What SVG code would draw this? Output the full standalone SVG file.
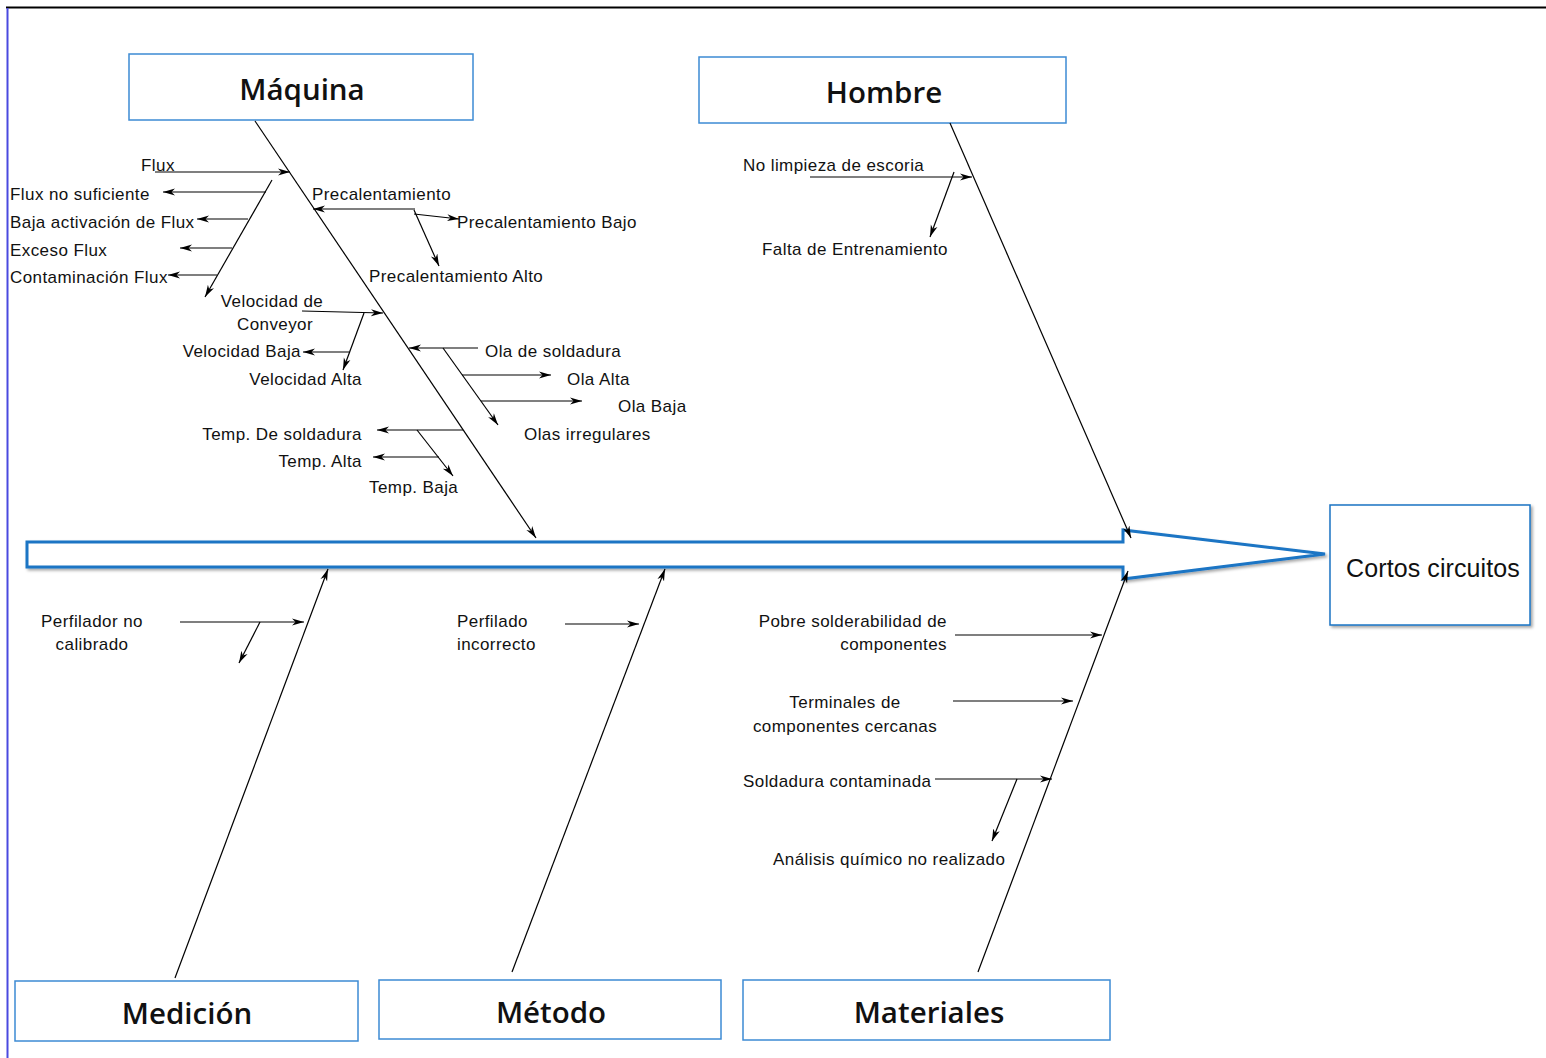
<svg xmlns="http://www.w3.org/2000/svg" width="1546" height="1058" viewBox="0 0 1546 1058">
<defs>
<marker id="ah" markerUnits="userSpaceOnUse" markerWidth="14" markerHeight="10" viewBox="0 0 14 10" refX="12" refY="5" orient="auto">
<path d="M0,1.5 L12,5 L0,8.5 L3.5,5 z" fill="#000"/>
</marker>
<filter id="sh" x="-5%" y="-20%" width="110%" height="140%">
<feDropShadow dx="2" dy="2" stdDeviation="1.5" flood-color="#000" flood-opacity="0.35"/>
</filter>
</defs>
<style>
.box{fill:#fff;stroke:#3d8bd4;stroke-width:1.5}
.title{font-family:"Open Sans","Noto Sans",sans-serif;font-weight:600;font-size:29.5px;fill:#111;text-anchor:middle}
.lbl{font-family:"Liberation Sans",Arial,sans-serif;font-size:17px;letter-spacing:0.42px;fill:#111}
.e{text-anchor:end}
.m{text-anchor:middle}
.ln{stroke:#000;stroke-width:1.2;fill:none}
.ar{stroke:#000;stroke-width:1.2;fill:none;marker-end:url(#ah)}
</style>
<rect width="1546" height="1058" fill="#fff"/>
<line x1="6" y1="7.5" x2="1546" y2="7.5" stroke="#000" stroke-width="2"/>
<line x1="7.5" y1="8" x2="7.5" y2="1058" stroke="#4a4ae0" stroke-width="2"/>

<g id="spine">
<path d="M27,542 L1123,542 L1123,530 L1325,554 L1123,579 L1123,567 L27,567 Z" fill="#fff" stroke="#1a74c4" stroke-width="3" stroke-linejoin="miter" filter="url(#sh)"/>
</g>

<g id="node-maquina">
<rect class="box" x="129" y="54" width="344" height="66"/>
<text class="title" x="302" y="100">Máquina</text>
</g>
<g id="node-hombre">
<rect class="box" x="699" y="57" width="367" height="66"/>
<text class="title" x="884" y="103">Hombre</text>
</g>
<g id="node-medicion">
<rect class="box" x="15" y="981" width="343" height="60"/>
<text class="title" x="187" y="1024">Medición</text>
</g>
<g id="node-metodo">
<rect class="box" x="379" y="980" width="342" height="59"/>
<text class="title" x="551" y="1023">Método</text>
</g>
<g id="node-materiales">
<rect class="box" x="743" y="980" width="367" height="60"/>
<text class="title" x="929" y="1023">Materiales</text>
</g>
<g id="node-efecto">
<rect x="1330" y="505" width="200" height="120" fill="#fff" stroke="#1a74c4" stroke-width="1.5" filter="url(#sh)"/>
<text class="lbl m" x="1433" y="577" style="font-size:25px;letter-spacing:0.1px">Cortos circuitos</text>
</g>

<g id="connectors">
<line class="ar" x1="255" y1="121" x2="536" y2="538"/>
<line class="ar" x1="950" y1="123" x2="1131" y2="538"/>
<line class="ar" x1="175" y1="978" x2="328" y2="569"/>
<line class="ar" x1="512" y1="972" x2="665" y2="569"/>
<line class="ar" x1="978" y1="972" x2="1128" y2="571"/>

<line class="ar" x1="155" y1="172" x2="290" y2="172"/>
<line class="ar" x1="272" y1="180" x2="205" y2="297"/>
<line class="ar" x1="266" y1="192" x2="163" y2="192"/>
<line class="ar" x1="248" y1="219" x2="197" y2="219"/>
<line class="ar" x1="232" y1="248" x2="180" y2="248"/>
<line class="ar" x1="217" y1="275" x2="168" y2="275"/>

<line class="ar" x1="415" y1="209" x2="313" y2="209"/>
<line class="ar" x1="414" y1="214" x2="459" y2="219"/>
<line class="ar" x1="414" y1="210" x2="439" y2="266"/>

<line class="ar" x1="302" y1="311" x2="383" y2="313"/>
<line class="ar" x1="364" y1="313" x2="343" y2="370"/>
<line class="ar" x1="349" y1="352" x2="303" y2="352"/>

<line class="ar" x1="478" y1="348" x2="409" y2="348"/>
<line class="ar" x1="443" y1="348" x2="498" y2="425"/>
<line class="ar" x1="462" y1="375" x2="551" y2="375"/>
<line class="ar" x1="481" y1="401" x2="582" y2="401"/>

<line class="ar" x1="463" y1="430" x2="377" y2="430"/>
<line class="ar" x1="417" y1="430" x2="453" y2="476"/>
<line class="ar" x1="439" y1="457" x2="373" y2="457"/>

<line class="ar" x1="810" y1="177" x2="972" y2="177"/>
<line class="ar" x1="954" y1="172" x2="930" y2="237"/>

<line class="ar" x1="180" y1="622" x2="304" y2="622"/>
<line class="ar" x1="260" y1="622" x2="239" y2="663"/>

<line class="ar" x1="565" y1="624" x2="639" y2="624"/>

<line class="ar" x1="955" y1="635" x2="1102" y2="635"/>
<line class="ar" x1="953" y1="701" x2="1073" y2="701"/>
<line class="ar" x1="935" y1="779" x2="1052" y2="779"/>
<line class="ar" x1="1017" y1="779" x2="992" y2="841"/>
</g>

<g id="labels-maquina">
<text class="lbl" x="141" y="171">Flux</text>
<text class="lbl" x="10" y="200">Flux no suficiente</text>
<text class="lbl" x="10" y="228">Baja activación de Flux</text>
<text class="lbl" x="10" y="256">Exceso Flux</text>
<text class="lbl" x="10" y="283">Contaminación Flux</text>
<text class="lbl" x="312" y="200">Precalentamiento</text>
<text class="lbl" x="457" y="228">Precalentamiento Bajo</text>
<text class="lbl" x="369" y="282">Precalentamiento Alto</text>
<text class="lbl m" x="272" y="307">Velocidad de</text>
<text class="lbl m" x="275" y="330">Conveyor</text>
<text class="lbl e" x="301" y="357">Velocidad Baja</text>
<text class="lbl e" x="362" y="385">Velocidad Alta</text>
<text class="lbl" x="485" y="357">Ola de soldadura</text>
<text class="lbl" x="567" y="385">Ola Alta</text>
<text class="lbl" x="618" y="412">Ola Baja</text>
<text class="lbl" x="524" y="440">Olas irregulares</text>
<text class="lbl e" x="362" y="440">Temp. De soldadura</text>
<text class="lbl e" x="362" y="467">Temp. Alta</text>
<text class="lbl" x="369" y="493">Temp. Baja</text>
</g>
<g id="labels-hombre">
<text class="lbl" x="743" y="171">No limpieza de escoria</text>
<text class="lbl" x="762" y="255">Falta de Entrenamiento</text>
</g>
<g id="labels-medicion">
<text class="lbl m" x="92" y="627">Perfilador no</text>
<text class="lbl m" x="92" y="650">calibrado</text>
</g>
<g id="labels-metodo">
<text class="lbl" x="457" y="627">Perfilado</text>
<text class="lbl" x="457" y="650">incorrecto</text>
</g>
<g id="labels-materiales">
<text class="lbl e" x="947" y="627">Pobre solderabilidad de</text>
<text class="lbl e" x="947" y="650">componentes</text>
<text class="lbl m" x="845" y="708">Terminales de</text>
<text class="lbl m" x="845" y="732">componentes cercanas</text>
<text class="lbl" x="743" y="787">Soldadura contaminada</text>
<text class="lbl" x="773" y="865">Análisis químico no realizado</text>
</g>
</svg>
